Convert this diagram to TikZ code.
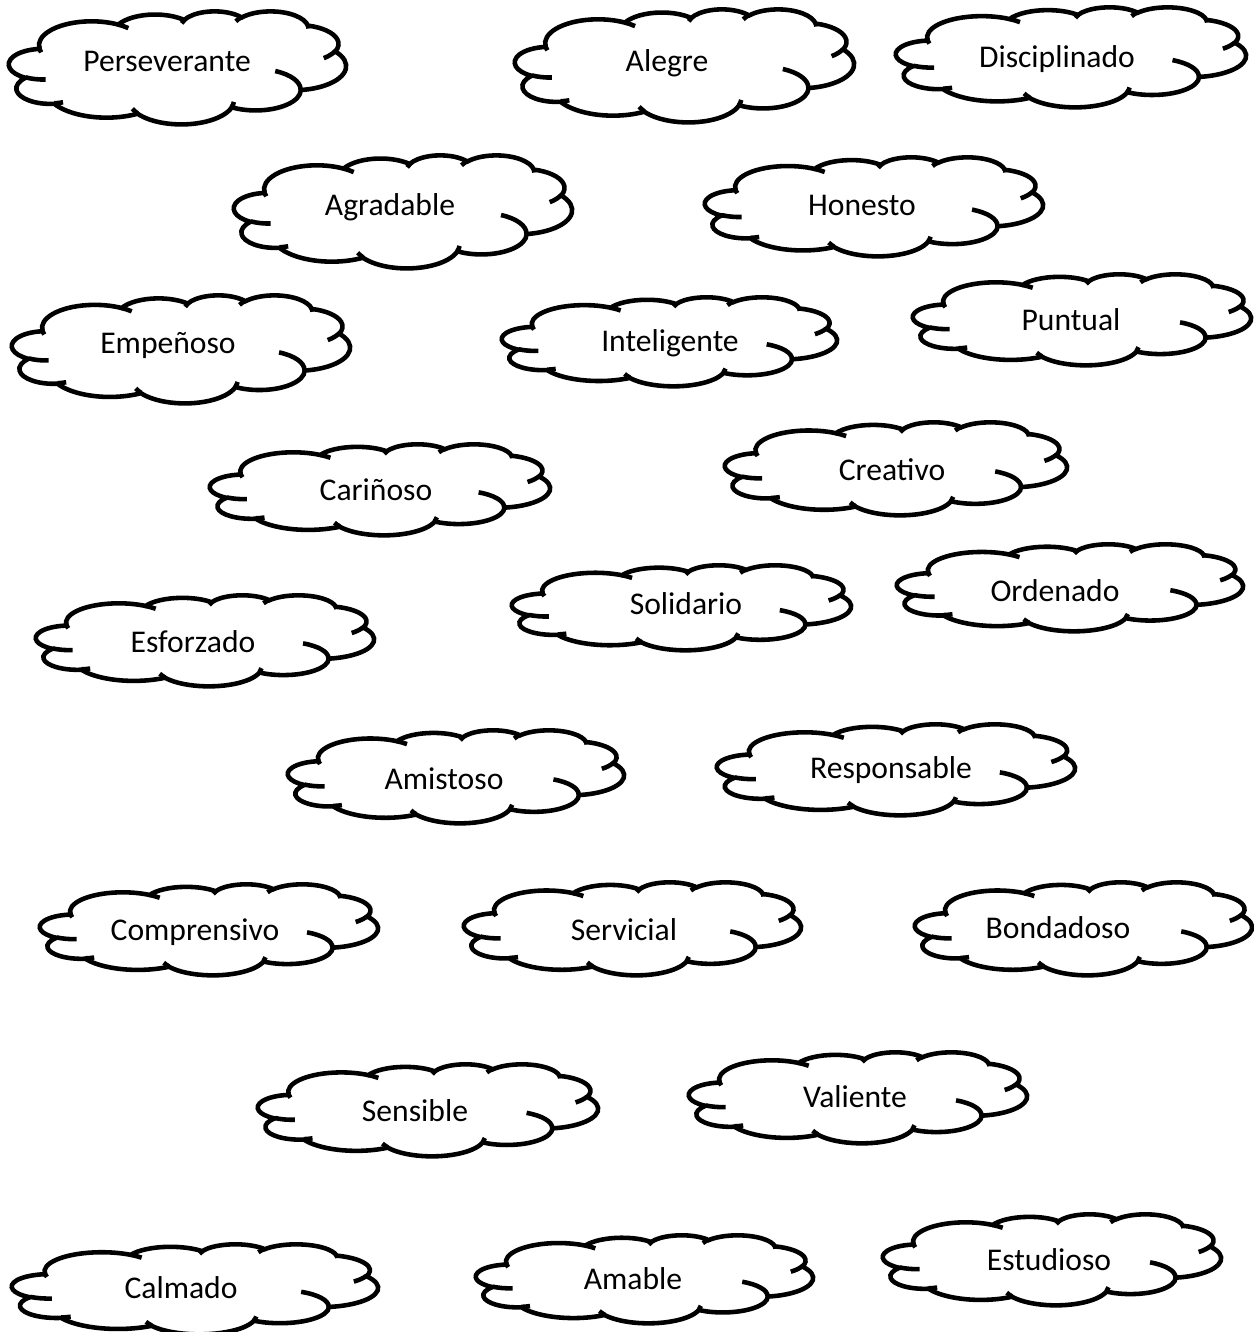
\documentclass[tikz,border=0pt]{standalone}
\usepackage{fontspec}
\setmainfont{Carlito}

\tikzset{
  nubeline/.style={line width=2.6pt},
  palabra/.style={font=\fontsize{18}{22}\selectfont, anchor=base, inner sep=0pt},
}

% cloud outline in a 100 x 100 box, placed at (left,top) with width and height
\newcommand{\nube}[4]{%
  \begin{scope}[shift={(#1,#2)}, xscale=#3/100, yscale=#4/100]
    \draw[nubeline, fill=white] (9.028,33.264)
      arc[x radius=15.632, y radius=21.273, start angle=172.26, delta angle=128.12]
      arc[x radius=12.345, y radius=16.822, start angle=-152.02, delta angle=106.58]
      arc[x radius=10.104, y radius=13.762, start angle=-153.49, delta angle=116.14]
      arc[x radius=11.243, y radius=15.266, start angle=-139.69, delta angle=129.48]
      arc[x radius=12.345, y radius=16.836, start angle=-74.77, delta angle=97.98]
      arc[x radius=15.683, y radius=21.343, start angle=-37.55, delta angle=119.41]
      arc[x radius=13.391, y radius=18.211, start angle=0.46, delta angle=121.53]
      arc[x radius=15.630, y radius=21.331, start angle=16.85, delta angle=129.39]
      arc[x radius=17.870, y radius=24.405, start angle=58.98, delta angle=91.22]
      arc[x radius=10.093, y radius=13.699, start angle=83.31, delta angle=139.81]
      arc[x radius=10.058, y radius=13.762, start angle=120.36, delta angle=143.75]
      -- cycle;
    % inner strokes
    \draw[nubeline]
      (10.863,60.595) arc[x radius=10.058, y radius=13.762, start angle=85.55, delta angle=34.82]
      (16.037,80.785) arc[x radius=10.093, y radius=13.699, start angle=68.24, delta angle=15.07]
      (38.144,90.486) arc[x radius=15.630, y radius=21.331, start angle=146.24, delta angle=12.23]
      (66.729,80.442) arc[x radius=15.630, y radius=21.331, start angle=4.74, delta angle=12.12]
      (79.002,53.134) arc[x radius=13.391, y radius=18.211, start angle=-64.03, delta angle=64.49]
      (96.755,35.542) arc[x radius=12.345, y radius=16.836, start angle=23.21, delta angle=26.44]
      (88.713,12.560) arc[x radius=11.243, y radius=15.266, start angle=-10.21, delta angle=11.03]
      (67.310,9.148) arc[x radius=11.243, y radius=15.266, start angle=-156.29, delta angle=16.60]
      (51.252,10.926) arc[x radius=10.104, y radius=13.762, start angle=-167.73, delta angle=14.24]
      (32.407,12.019) arc[x radius=15.632, y radius=21.273, start angle=-59.64, delta angle=13.92]
      (9.553,36.549) arc[x radius=15.632, y radius=21.273, start angle=163.45, delta angle=13.92];
  \end{scope}}

\begin{document}
\begin{tikzpicture}[x=0.02cm, y=-0.02cm]
  \useasboundingbox (0,0) rectangle (1254,1332);

  \nube{9}{11}{337}{113}
  \node[palabra] (perseverante) at (167,71) {Perseverante};
  \nube{515}{9}{339}{113}
  \node[palabra] (alegre) at (667,71) {Alegre};
  \nube{896}{7}{350}{100}
  \node[palabra] (disciplinado) at (1057,67) {Disciplinado};

  \nube{234}{155}{338}{113}
  \node[palabra] (agradable) at (390,215) {Agradable};
  \nube{705}{157}{338}{99}
  \node[palabra] (honesto) at (862,215) {Honesto};

  \nube{12}{295}{338}{108}
  \node[palabra] (empenoso) at (168,353) {Empeñoso};
  \nube{502}{297}{335}{89}
  \node[palabra] (inteligente) at (670,351) {Inteligente};
  \nube{913}{274}{338}{91}
  \node[palabra] (puntual) at (1071,330) {Puntual};

  \nube{210}{444}{340}{91}
  \node[palabra] (carinoso) at (376,500) {Cariñoso};
  \nube{725}{422}{342}{93}
  \node[palabra] (creativo) at (892,480) {Creativo};

  \nube{512}{565}{339}{85}
  \node[palabra] (solidario) at (686,614) {Solidario};
  \nube{897}{544}{346}{87}
  \node[palabra] (ordenado) at (1055,601) {Ordenado};
  \nube{36}{595}{338}{91}
  \node[palabra] (esforzado) at (193,652) {Esforzado};

  \nube{288}{730}{336}{93}
  \node[palabra] (amistoso) at (444,789) {Amistoso};
  \nube{717}{724}{358}{91}
  \node[palabra] (responsable) at (891,778) {Responsable};

  \nube{40}{884}{338}{91}
  \node[palabra] (comprensivo) at (195,940) {Comprensivo};
  \nube{464}{882}{337}{93}
  \node[palabra] (servicial) at (624,940) {Servicial};
  \nube{915}{882}{337}{93}
  \node[palabra] (bondadoso) at (1058,938) {Bondadoso};

  \nube{258}{1064}{340}{92}
  \node[palabra] (sensible) at (415,1121) {Sensible};
  \nube{689}{1052}{338}{91}
  \node[palabra] (valiente) at (855,1107) {Valiente};

  \nube{12}{1244}{366}{90}
  \node[palabra] (calmado) at (181,1298) {Calmado};
  \nube{476}{1235}{337}{88}
  \node[palabra] (amable) at (633,1289) {Amable};
  \nube{883}{1214}{338}{91}
  \node[palabra] (estudioso) at (1049,1270) {Estudioso};
\end{tikzpicture}
\end{document}
